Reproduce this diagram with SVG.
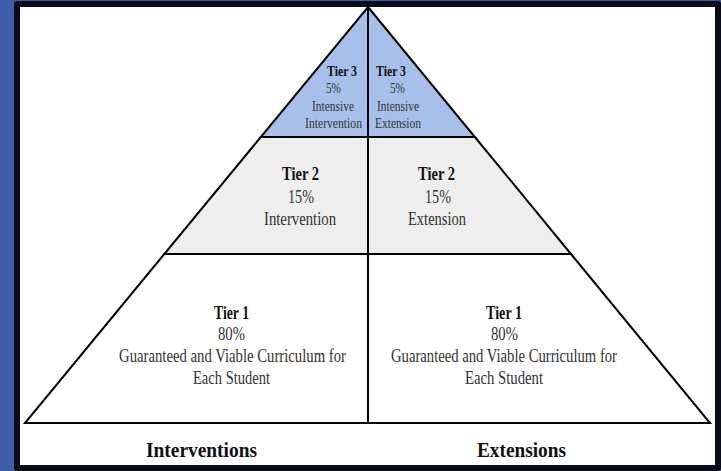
<svg xmlns="http://www.w3.org/2000/svg" width="721" height="471" viewBox="0 0 721 471">
  <style>
    .edge { stroke: #000; stroke-width: 2; stroke-linejoin: miter; }
    .t { font-family: "Liberation Serif", "Times New Roman", serif; fill: #333; }
    .b { font-family: "Liberation Serif", "Times New Roman", serif; font-weight: bold; fill: #111; }
    .s3 { font-size: 15.5px; }
    .s2 { font-size: 19.5px; }
    .s1 { font-size: 19.5px; }
    .lab { font-size: 20.5px; }
  </style>
  <!-- frame -->
  <rect x="0" y="0" width="721" height="471" fill="#3e5ca8"/>
  <rect x="14" y="1" width="707" height="470" rx="3" fill="#080c18"/>
  <rect x="20" y="7" width="695" height="458" fill="#ffffff"/>

  <g id="tier1">
    <polygon class="edge" points="164.3,254 571,254 710,423 25,423" fill="#ffffff"/>
  </g>
  <g id="tier2">
    <polygon class="edge" points="260.8,137 474.9,137 571,254 164.3,254" fill="#eeeeee"/>
  </g>
  <g id="tier3">
    <polygon class="edge" points="368,7 474.9,137 260.8,137" fill="#a7c0ea"/>
  </g>
  <g id="divider">
    <line class="edge" x1="368" y1="7" x2="368" y2="423"/>
  </g>

  <g id="tier3-interventions">
    <text class="b s3" x="327" y="76" textLength="30" lengthAdjust="spacingAndGlyphs">Tier 3</text>
    <text class="t s3" x="326" y="93" textLength="15" lengthAdjust="spacingAndGlyphs">5%</text>
    <text class="t s3" x="312" y="111" textLength="42" lengthAdjust="spacingAndGlyphs">Intensive</text>
    <text class="t s3" x="305" y="128" textLength="57" lengthAdjust="spacingAndGlyphs">Intervention</text>
  </g>
  <g id="tier3-extensions">
    <text class="b s3" x="376" y="76" textLength="30" lengthAdjust="spacingAndGlyphs">Tier 3</text>
    <text class="t s3" x="390" y="93" textLength="15" lengthAdjust="spacingAndGlyphs">5%</text>
    <text class="t s3" x="377" y="111" textLength="42" lengthAdjust="spacingAndGlyphs">Intensive</text>
    <text class="t s3" x="375" y="128" textLength="46" lengthAdjust="spacingAndGlyphs">Extension</text>
  </g>

  <g id="tier2-interventions">
    <text class="b s2" x="282" y="180" textLength="37" lengthAdjust="spacingAndGlyphs">Tier 2</text>
    <text class="t s2" x="288" y="203" textLength="26" lengthAdjust="spacingAndGlyphs">15%</text>
    <text class="t s2" x="264" y="225" textLength="72" lengthAdjust="spacingAndGlyphs">Intervention</text>
  </g>
  <g id="tier2-extensions">
    <text class="b s2" x="418" y="180" textLength="37" lengthAdjust="spacingAndGlyphs">Tier 2</text>
    <text class="t s2" x="425" y="203" textLength="26" lengthAdjust="spacingAndGlyphs">15%</text>
    <text class="t s2" x="408" y="225" textLength="58" lengthAdjust="spacingAndGlyphs">Extension</text>
  </g>

  <g id="tier1-interventions">
    <text class="b s1" x="214" y="319" textLength="35" lengthAdjust="spacingAndGlyphs">Tier 1</text>
    <text class="t s1" x="218" y="340" textLength="27" lengthAdjust="spacingAndGlyphs">80%</text>
    <text class="t s1" x="119" y="362" textLength="227" lengthAdjust="spacingAndGlyphs">Guaranteed and Viable Curriculum for</text>
    <text class="t s1" x="193" y="384" textLength="77" lengthAdjust="spacingAndGlyphs">Each Student</text>
  </g>
  <g id="tier1-extensions">
    <text class="b s1" x="486" y="319" textLength="36" lengthAdjust="spacingAndGlyphs">Tier 1</text>
    <text class="t s1" x="491" y="340" textLength="27" lengthAdjust="spacingAndGlyphs">80%</text>
    <text class="t s1" x="391" y="362" textLength="226" lengthAdjust="spacingAndGlyphs">Guaranteed and Viable Curriculum for</text>
    <text class="t s1" x="465" y="384" textLength="78" lengthAdjust="spacingAndGlyphs">Each Student</text>
  </g>

  <g id="label-interventions">
    <text class="b lab" x="146" y="457" textLength="111" lengthAdjust="spacingAndGlyphs">Interventions</text>
  </g>
  <g id="label-extensions">
    <text class="b lab" x="477" y="457" textLength="89" lengthAdjust="spacingAndGlyphs">Extensions</text>
  </g>
</svg>
